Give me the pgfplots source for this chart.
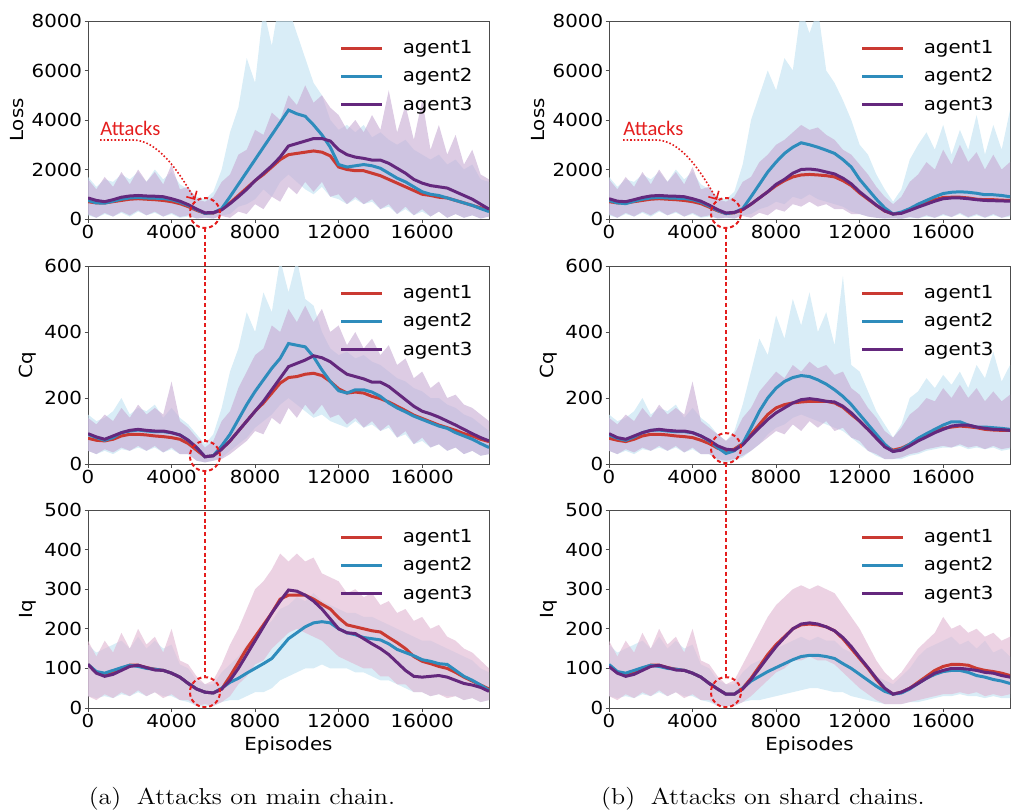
\documentclass[border=0pt]{standalone}
\usepackage{pgfplots}
\pgfplotsset{compat=1.18}
\usepackage{pgfplotstable}
\usepackage{graphicx}
\usepgfplotslibrary{fillbetween}
\usetikzlibrary{arrows.meta}
\usepackage{fontspec}
\newfontfamily\dvs[FakeStretch=1.1]{DejaVu Sans}
\newfontfamily\carl{Carlito}
\newcommand{\tfont}{\dvs\fontsize{9}{10.5}\selectfont}

\definecolor{cR}{RGB}{202,58,50}
\definecolor{cB}{RGB}{46,140,188}
\definecolor{cP}{RGB}{100,40,125}
\definecolor{fB}{RGB}{196,228,242}
\definecolor{fP}{RGB}{200,172,212}
\definecolor{fK}{RGB}{224,182,210}
\definecolor{cA}{RGB}{228,30,30}

% x  agent1 agent2 agent3 | noise band (red/purple) lo hi | noise band (blue) lb hb
\pgfplotstableread{
x r b p lo hi lb hb
0 700 750 850 200 1600 150 1700
400 650 650 750 50 1200 50 1300
800 650 640 700 250 1700 200 1600
1200 700 720 780 100 1300 100 1500
1600 750 800 880 300 1900 250 1800
2000 800 850 930 150 1400 100 1600
2400 820 870 950 350 2000 300 1900
2800 800 850 930 150 1500 150 1500
3200 780 840 920 300 1900 250 2000
3600 750 830 900 100 1400 100 1600
4000 700 780 820 250 2200 200 1900
4400 620 680 720 80 1200 50 1400
4800 500 550 580 150 1300 100 1200
5200 350 380 400 20 800 20 900
5600 230 230 250 60 700 50 800
6000 240 250 260 20 900 20 1100
6400 380 420 370 120 1500 150 2000
6800 650 900 620 50 1800 200 3500
7200 950 1400 900 300 2600 500 4500
7600 1250 1900 1200 200 2800 600 6500
8000 1550 2400 1550 600 3600 800 5500
8400 1800 2900 1850 400 3400 1200 8500
8800 2100 3400 2150 900 4300 900 7000
9200 2400 3900 2500 700 4000 1500 9000
9600 2600 4400 2950 1300 5000 1800 8500
10000 2650 4250 3050 1000 4600 1500 7500
10400 2700 4150 3150 1500 5400 1200 6500
10800 2750 3800 3250 1100 4700 1000 5500
11200 2700 3400 3250 1500 5000 1300 5000
11600 2550 2900 3150 900 4500 900 4000
12000 2100 2200 2800 1000 4200 800 3600
12400 2000 2100 2600 600 3600 600 3800
12800 1950 2150 2500 900 4000 800 3500
13200 1950 2200 2450 600 3500 600 3800
13600 1850 2150 2380 800 4200 700 3300
14000 1750 2050 2380 400 3600 400 3500
14400 1600 1850 2250 600 5200 500 3200
14800 1450 1650 2050 200 3500 200 3000
15200 1300 1500 1850 500 4600 400 3200
15600 1150 1300 1600 150 3200 150 2800
16000 1000 1100 1450 400 4800 300 2600
16400 950 1000 1350 100 2800 100 2400
16800 880 950 1300 300 3800 300 2600
17200 850 850 1250 50 2600 50 2200
17600 750 750 1100 200 3400 200 2400
18000 650 650 950 50 2200 50 2000
18400 550 550 800 150 2800 150 2200
18800 450 420 600 20 1800 20 1600
19200 350 300 400 100 1600 100 1500
}\Aone

\pgfplotstableread{
x r b p lo hi lb hb
0 78 90 92 40 140 40 150
400 72 80 82 30 120 30 130
800 70 72 75 45 150 40 140
1200 75 80 85 35 130 30 160
1600 85 95 95 50 170 45 200
2000 90 100 102 40 140 40 150
2400 90 103 105 55 180 50 170
2800 88 100 102 40 150 40 160
3200 85 98 100 55 170 50 180
3600 83 98 100 35 150 35 140
4000 80 95 95 50 250 45 170
4400 75 88 88 30 130 30 140
4800 62 72 72 30 110 30 120
5200 42 50 50 10 80 10 90
5600 22 22 22 5 50 5 60
6000 25 25 25 10 70 10 90
6400 45 55 45 15 130 20 170
6800 70 90 70 30 160 40 280
7200 100 135 100 50 230 60 350
7600 130 180 130 70 280 80 460
8000 160 220 160 100 330 110 400
8400 185 255 190 90 350 130 520
8800 215 290 225 140 420 150 460
9200 245 320 260 120 400 180 620
9600 262 365 295 170 470 200 520
10000 265 360 305 140 430 180 620
10400 272 355 315 180 480 160 500
10800 275 325 328 150 430 140 480
11200 268 285 322 180 470 150 400
11600 250 250 310 140 400 130 350
12000 228 222 290 150 420 120 330
12400 215 215 272 120 360 110 340
12800 218 225 265 140 400 130 320
13200 215 225 258 110 350 110 330
13600 205 218 248 130 380 120 310
14000 198 205 248 100 330 100 300
14400 188 185 235 120 360 110 280
14800 175 170 215 80 300 80 260
15200 162 158 195 100 320 90 250
15600 148 145 175 60 260 60 230
16000 138 135 160 80 280 70 220
16400 128 125 152 50 230 50 200
16800 118 115 142 60 250 60 200
17200 110 108 130 40 200 40 180
17600 102 95 118 50 210 50 170
18000 92 85 105 30 180 30 150
18400 85 75 92 40 170 40 140
18800 75 62 80 25 150 25 120
19200 68 50 70 30 130 30 100
}\Atwo

\pgfplotstableread{
x r b p lo hi lb hb
0 110 110 110 30 170 30 160
400 90 92 88 20 130 25 140
800 85 88 80 35 170 30 150
1200 92 95 85 25 140 25 160
1600 100 102 95 40 190 35 170
2000 108 108 105 30 150 30 150
2400 108 105 108 45 200 40 180
2800 102 100 102 30 160 30 150
3200 98 98 96 40 180 40 170
3600 95 95 95 25 140 30 150
4000 88 88 88 35 200 30 160
4400 78 78 78 20 120 20 110
4800 62 62 62 20 110 15 100
5200 48 48 48 5 80 5 70
5600 40 40 40 10 60 5 60
6000 38 38 38 5 70 5 60
6400 48 50 48 15 110 15 90
6800 80 65 70 30 160 20 110
7200 115 75 100 60 200 20 130
7600 150 88 135 80 250 30 160
8000 180 100 170 110 300 40 170
8400 210 112 205 120 320 40 200
8800 240 125 240 150 350 50 220
9200 275 150 270 170 390 70 250
9600 285 175 298 190 370 80 260
10000 285 190 295 200 390 90 280
10400 285 205 285 190 370 100 270
10800 275 215 270 180 380 100 290
11200 262 218 250 170 340 110 270
11600 250 215 225 150 330 100 260
12000 228 200 200 130 320 100 250
12400 210 190 190 120 290 100 240
12800 205 185 188 110 300 90 240
13200 200 178 175 100 280 90 230
13600 195 175 162 100 290 80 230
14000 192 172 150 80 260 70 220
14400 178 162 135 80 270 70 210
14800 165 148 115 60 240 60 200
15200 150 140 95 60 250 50 190
15600 130 132 80 40 220 40 180
16000 118 122 78 40 230 40 170
16400 112 118 80 30 200 30 170
16800 105 112 82 35 210 35 160
17200 100 110 78 25 180 30 150
17600 90 95 70 30 170 30 140
18000 78 80 62 20 150 20 130
18400 68 70 58 25 140 25 120
18800 58 58 52 15 120 15 100
19200 48 45 42 20 100 20 90
}\Athree

\pgfplotstableread{
x r b p lo hi lb hb
0 700 750 820 200 1600 150 1700
400 650 650 720 50 1200 50 1300
800 650 620 700 250 1700 200 1600
1200 700 720 780 100 1300 100 1500
1600 750 800 870 300 1900 250 1800
2000 800 850 930 150 1400 100 1600
2400 820 870 950 350 2000 300 1900
2800 800 850 930 150 1500 150 1500
3200 780 840 920 300 1900 250 2000
3600 750 830 900 100 1400 100 1600
4000 700 780 820 250 2100 200 1900
4400 620 680 720 80 1200 50 1400
4800 480 520 560 150 1300 100 1200
5200 330 350 380 20 800 20 900
5600 220 220 240 60 700 50 800
6000 250 260 270 20 900 20 1100
6400 380 420 380 120 1500 150 2200
6800 600 900 600 50 1700 200 4000
7200 850 1400 850 250 2300 400 5000
7600 1100 1900 1100 150 2600 500 6000
8000 1350 2300 1400 400 3000 700 5200
8400 1550 2650 1600 300 3200 600 6500
8800 1700 2900 1850 600 3500 900 6000
9200 1780 3080 2000 500 3800 800 8500
9600 1800 3000 2020 700 3600 1000 7500
10000 1780 2900 1980 500 3700 800 8500
10400 1750 2780 1900 600 3400 700 6000
10800 1700 2650 1820 400 3200 600 5500
11200 1550 2400 1650 400 2800 500 4800
11600 1350 2100 1420 200 2600 300 4000
12000 1050 1600 1100 200 2200 200 3000
12400 800 1200 830 100 1800 100 2600
12800 550 800 560 50 1300 50 1800
13200 320 450 330 20 900 20 1200
13600 200 200 200 30 600 30 700
14000 250 280 230 10 900 10 1200
14400 380 420 350 80 1500 60 2400
14800 520 600 480 30 1800 30 3000
15200 650 750 600 150 2300 100 3500
15600 780 900 720 50 2000 50 2800
16000 870 1030 820 200 2800 150 3800
16400 880 1080 850 80 2200 80 2600
16800 880 1100 850 250 3000 200 3600
17200 850 1080 820 80 2300 50 2800
17600 800 1040 780 200 2700 150 4200
18000 780 980 750 60 2000 50 2600
18400 780 980 740 200 2600 150 3800
18800 760 950 730 50 2000 50 2800
19200 750 900 720 150 2300 100 4400
}\Bone

\pgfplotstableread{
x r b p lo hi lb hb
0 78 88 92 40 140 40 150
400 72 78 80 30 120 30 130
800 68 72 75 45 150 40 140
1200 75 82 85 35 130 30 160
1600 85 95 95 50 170 45 200
2000 90 102 102 40 140 40 150
2400 90 103 105 55 180 50 170
2800 88 100 102 40 150 40 160
3200 85 98 100 55 170 50 180
3600 83 98 100 35 150 35 140
4000 80 95 95 50 250 45 170
4400 72 85 85 30 130 30 140
4800 62 70 72 30 110 30 120
5200 48 50 55 15 90 10 90
5600 40 32 45 10 70 5 70
6000 45 40 42 15 90 10 100
6400 62 62 58 25 140 20 180
6800 90 110 85 40 170 40 280
7200 120 160 110 60 220 60 380
7600 150 200 135 80 250 90 330
8000 170 230 155 100 280 110 450
8400 180 250 170 90 260 120 380
8800 185 262 185 120 300 140 500
9200 188 268 195 100 280 150 420
9600 190 265 198 130 310 140 520
10000 190 255 195 110 290 130 400
10400 190 242 190 130 300 120 460
10800 185 225 188 100 270 110 360
11200 172 205 175 110 280 100 570
11600 150 180 155 80 230 80 300
12000 130 150 130 70 210 60 280
12400 105 120 105 40 170 40 220
12800 80 90 78 30 140 25 160
13200 55 60 52 15 100 15 120
13600 42 38 38 15 80 15 80
14000 48 45 42 20 110 15 120
14400 60 60 55 30 150 25 200
14800 75 78 70 35 170 30 220
15200 88 92 82 45 200 40 260
15600 100 105 95 50 190 45 230
16000 108 118 105 55 230 50 270
16400 112 128 115 50 200 50 240
16800 115 128 118 60 240 55 280
17200 113 118 118 50 200 45 230
17600 110 112 112 55 230 50 300
18000 105 112 108 45 190 45 260
18400 103 110 105 55 220 50 340
18800 102 108 104 45 190 40 250
19200 102 105 102 50 210 45 300
}\Btwo

\pgfplotstableread{
x r b p lo hi lb hb
0 108 110 105 30 170 30 160
400 90 92 88 20 130 25 140
800 85 88 80 35 170 30 150
1200 92 95 85 25 140 25 160
1600 100 102 95 40 190 35 170
2000 108 108 105 30 150 30 150
2400 108 105 108 45 200 40 180
2800 102 100 102 30 160 30 150
3200 98 98 96 40 180 40 170
3600 95 95 95 25 140 30 150
4000 88 88 88 35 200 30 160
4400 78 78 78 20 120 20 110
4800 62 62 62 20 110 15 100
5200 48 48 48 5 80 5 70
5600 35 35 35 5 60 5 60
6000 35 35 35 5 70 5 60
6400 50 50 48 15 110 15 90
6800 75 68 72 30 150 20 110
7200 105 80 100 50 190 20 120
7600 135 92 128 70 230 25 130
8000 160 102 155 90 260 30 150
8400 180 112 178 100 280 35 160
8800 200 122 200 120 300 40 170
9200 210 130 212 120 310 45 180
9600 212 133 215 130 300 50 170
10000 210 133 212 120 310 50 180
10400 205 130 205 120 300 45 170
10800 195 125 195 110 290 40 170
11200 175 112 178 90 260 40 150
11600 150 100 155 70 230 30 140
12000 125 85 128 50 200 25 120
12400 100 70 102 35 160 20 100
12800 72 55 75 20 120 15 80
13200 48 42 50 10 90 10 70
13600 35 35 35 10 70 10 60
14000 40 38 40 10 90 10 80
14400 50 48 50 15 120 15 100
14800 65 62 62 20 150 15 130
15200 80 75 75 25 170 20 150
15600 95 85 88 30 190 25 160
16000 105 92 95 35 230 30 170
16400 110 95 100 35 200 30 180
16800 110 95 100 40 210 35 160
17200 108 90 98 35 190 30 170
17600 100 82 95 40 200 30 150
18000 95 78 90 30 180 25 170
18400 92 72 88 35 190 30 140
18800 88 68 82 30 170 25 150
19200 82 62 78 35 180 25 130
}\Bthree

\tikzset{attack/.style={cA, line width=1pt, dash pattern=on 2pt off 1.4pt}}

\pgfplotsset{
  panel/.style={
    scale only axis, width=200.5pt, height=99pt, anchor=south west,
    xmin=0, xmax=19200, ymin=0,
    xtick={0,4000,8000,12000,16000},
    axis line style={black!70, line width=0.5pt},
    tick style={black!70, line width=0.5pt},
    major tick length=1.75pt,
    tick align=outside, tick pos=left,
    ticklabel style={font=\tfont, inner sep=1pt},
    /pgf/number format/assume math mode=true,
    /pgf/number format/1000 sep={},
    scaled ticks=false,
    label style={font=\tfont},
    ylabel style={inner sep=1pt},
    ylabel shift=2pt,
    clip mode=individual,
    legend style={draw=none, fill=none, at={(0.97,0.925)},
      anchor=north east, inner sep=0pt, font=\tfont, row sep=2pt},
    legend cell align=left,
    legend image code/.code={\draw[##1, line width=1.5pt] (0pt,0pt) -- (20.5pt,0pt); \path (28pt,0pt);},
  },
}

\newcommand{\series}[2]{%
  \addplot[name path=lo, draw=none, forget plot] table[x=x,y=lo]{#1};
  \addplot[name path=hi, draw=none, forget plot] table[x=x,y=hi]{#1};
  \addplot[name path=lb, draw=none, forget plot] table[x=x,y=lb]{#1};
  \addplot[name path=hb, draw=none, forget plot] table[x=x,y=hb]{#1};
  \addplot[fill=fB, fill opacity=0.65, draw=none, forget plot] fill between[of=hb and lb];
  \addplot[fill=#2, fill opacity=0.62, draw=none, forget plot] fill between[of=hi and lo];
  \addplot[cR, line width=1.5pt] table[x=x,y=r]{#1};
  \addplot[cB, line width=1.5pt] table[x=x,y=b]{#1};
  \addplot[cP, line width=1.5pt] table[x=x,y=p]{#1};
  \legend{agent1,agent2,agent3}
}

\begin{document}
\begin{tikzpicture}

% (a) attacks on main chain
\begin{axis}[panel, at={(44pt,296pt)}, ymax=8000, ytick={0,2000,...,8000}, ylabel={Loss}]
  \series{\Aone}{fP}
  \draw[attack] (axis cs:5600,242) circle[radius=7.5pt];
  \coordinate (a1) at (axis cs:5600,242);
  \node[anchor=base west, inner sep=0pt, text=cA, font=\carl\fontsize{10.3}{12}\selectfont] at (axis cs:575,3394) {Attacks};
  \draw[cA, densely dotted, line width=0.8pt, -{Straight Barb[length=3pt]}] (axis cs:575,3192) -- (axis cs:2156,3192) .. controls (axis cs:3300,3192) and (axis cs:4300,2000) .. (axis cs:5126,768);
\end{axis}
\begin{axis}[panel, at={(44pt,173.5pt)}, ymax=600, ytick={0,200,400,600}, ylabel={Cq}]
  \series{\Atwo}{fP}
  \draw[attack] (axis cs:5600,24) circle[radius=7.5pt];
  \coordinate (a2) at (axis cs:5600,24);
\end{axis}
\begin{axis}[panel, at={(44pt,51.5pt)}, ymax=500, ytick={0,100,...,500}, ylabel={Iq}, xlabel={Episodes}]
  \series{\Athree}{fK}
  \draw[attack] (axis cs:5600,40) circle[radius=7.5pt];
  \coordinate (a3) at (axis cs:5600,40);
\end{axis}

% (b) attacks on shard chains
\begin{axis}[panel, at={(304.5pt,296pt)}, ymax=8000, ytick={0,2000,...,8000}, ylabel={Loss}]
  \series{\Bone}{fP}
  \draw[attack] (axis cs:5600,242) circle[radius=7.5pt];
  \coordinate (b1) at (axis cs:5600,242);
  \node[anchor=base west, inner sep=0pt, text=cA, font=\carl\fontsize{10.3}{12}\selectfont] at (axis cs:670,3394) {Attacks};
  \draw[cA, densely dotted, line width=0.8pt, -{Straight Barb[length=3pt]}] (axis cs:670,3192) -- (axis cs:2251,3192) .. controls (axis cs:3400,3192) and (axis cs:4350,2000) .. (axis cs:5174,768);
\end{axis}
\begin{axis}[panel, at={(304.5pt,173.5pt)}, ymax=600, ytick={0,200,400,600}, ylabel={Cq}]
  \series{\Btwo}{fP}
  \draw[attack] (axis cs:5600,48) circle[radius=7.5pt];
  \coordinate (b2) at (axis cs:5600,48);
\end{axis}
\begin{axis}[panel, at={(304.5pt,51.5pt)}, ymax=500, ytick={0,100,...,500}, ylabel={Iq}, xlabel={Episodes}]
  \series{\Bthree}{fK}
  \draw[attack] (axis cs:5600,40) circle[radius=7.5pt];
  \coordinate (b3) at (axis cs:5600,40);
\end{axis}

\draw[attack] ([yshift=-7.5pt]a1) -- ([yshift=7.5pt]a2);
\draw[attack] ([yshift=-7.5pt]a2) -- ([yshift=7.5pt]a3);
\draw[attack] ([yshift=-7.5pt]b1) -- ([yshift=7.5pt]b2);
\draw[attack] ([yshift=-7.5pt]b2) -- ([yshift=7.5pt]b3);

\node[anchor=base, inner sep=0pt, font=\fontsize{11.5}{13.5}\selectfont] at (121pt,3.25pt) {\scalebox{1.13}[1]{(a)\hspace{0.6em}Attacks on main chain.}};
\node[anchor=base, inner sep=0pt, font=\fontsize{11.5}{13.5}\selectfont] at (381.5pt,3.25pt) {\scalebox{1.13}[1]{(b)\hspace{0.6em}Attacks on shard chains.}};

\pgfresetboundingbox
\path[use as bounding box] (0,0) rectangle (507.5pt,405.5pt);
\end{tikzpicture}
\end{document}
